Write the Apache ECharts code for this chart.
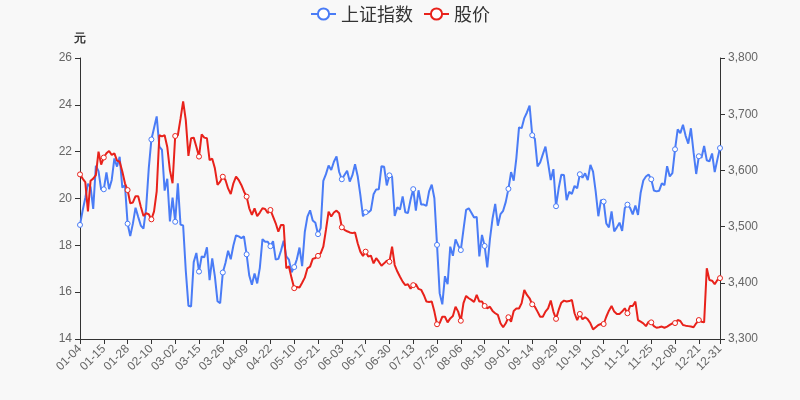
<!DOCTYPE html>
<html>
<head>
<meta charset="utf-8">
<script src="https://cdn.jsdelivr.net/npm/echarts@6/dist/echarts.min.js"></script>
<style>
html,body{margin:0;padding:0;background:#f8f8f8;}
#c{width:800px;height:400px;}
</style>
</head>
<body>
<div id="c"></div>
<script>
const categories = [
'01-04','01-05','01-06','01-07','01-08','01-11','01-12','01-13','01-14','01-15','01-18','01-19','01-20','01-21','01-22','01-25','01-26','01-27','01-28','01-29',
'02-01','02-02','02-03','02-04','02-05','02-08','02-09','02-10','02-18','02-19','02-22','02-23','02-24','02-25','02-26',
'03-01','03-02','03-03','03-04','03-05','03-08','03-09','03-10','03-11','03-12','03-15','03-16','03-17','03-18','03-19','03-22','03-23','03-24','03-25','03-26','03-29','03-30','03-31',
'04-01','04-02','04-06','04-07','04-08','04-09','04-12','04-13','04-14','04-15','04-16','04-19','04-20','04-21','04-22','04-23','04-26','04-27','04-28','04-29','04-30',
'05-06','05-07','05-10','05-11','05-12','05-13','05-14','05-17','05-18','05-19','05-20','05-21','05-24','05-25','05-26','05-27','05-28','05-31',
'06-01','06-02','06-03','06-04','06-07','06-08','06-09','06-10','06-11','06-15','06-16','06-17','06-18','06-21','06-22','06-23','06-24','06-25','06-28','06-29','06-30',
'07-01','07-02','07-05','07-06','07-07','07-08','07-09','07-12','07-13','07-14','07-15','07-16','07-19','07-20','07-21','07-22','07-23','07-26','07-27','07-28','07-29','07-30',
'08-02','08-03','08-04','08-05','08-06','08-09','08-10','08-11','08-12','08-13','08-16','08-17','08-18','08-19','08-20','08-23','08-24','08-25','08-26','08-27','08-30','08-31',
'09-01','09-02','09-03','09-06','09-07','09-08','09-09','09-10','09-13','09-14','09-15','09-16','09-17','09-22','09-23','09-24','09-27','09-28','09-29','09-30',
'10-08','10-11','10-12','10-13','10-14','10-15','10-18','10-19','10-20','10-21','10-22','10-25','10-26','10-27','10-28','10-29',
'11-01','11-02','11-03','11-04','11-05','11-08','11-09','11-10','11-11','11-12','11-15','11-16','11-17','11-18','11-19','11-22','11-23','11-24','11-25','11-26','11-29','11-30',
'12-01','12-02','12-03','12-06','12-07','12-08','12-09','12-10','12-13','12-14','12-15','12-16','12-17','12-20','12-21','12-22','12-23','12-24','12-27','12-28','12-29','12-30','12-31'
];

const indexValues = [
3502.96,3528.68,3550.88,3576.20,3570.11,3531.50,3608.34,3598.65,3565.90,3566.38,3596.22,3566.66,3583.09,3621.26,3606.75,3624.24,3569.43,3573.34,3505.18,3483.07,
3505.28,3533.68,3517.31,3501.86,3496.33,3532.44,3603.49,3655.09,3675.36,3696.17,3642.44,3636.36,3564.08,3585.05,3509.08,
3551.40,3508.59,3576.90,3503.49,3501.99,3421.41,3359.29,3357.74,3436.83,3453.08,3419.95,3446.73,3445.55,3463.07,3404.66,3443.44,3411.51,3367.06,3363.59,3418.33,3435.30,3457.07,3441.91,
3466.33,3484.39,3482.49,3479.63,3482.55,3450.68,3412.95,3396.47,3416.46,3398.99,3426.62,3477.55,3472.94,3472.93,3465.11,3474.17,3441.17,3442.61,3457.07,3474.90,3446.86,
3441.28,3418.87,3427.99,3441.85,3462.75,3429.54,3490.38,3517.62,3529.01,3510.96,3506.94,3486.56,3497.28,3581.34,3593.36,3608.85,3600.78,3615.48,
3624.71,3597.14,3584.22,3591.84,3599.54,3580.11,3591.40,3610.86,3589.75,3556.56,3518.33,3525.60,3525.10,3529.18,3557.41,3566.22,3566.65,3607.56,3606.37,3573.18,3591.20,
3588.78,3518.76,3534.32,3530.26,3553.72,3525.50,3524.09,3547.84,3566.65,3528.50,3564.59,3539.30,3539.12,3536.79,3562.70,3574.73,3550.40,3467.44,3381.18,3361.59,3411.72,3397.36,
3464.29,3447.99,3477.22,3466.56,3458.23,3494.63,3529.93,3532.62,3524.74,3516.30,3517.34,3446.98,3485.29,3465.55,3427.33,3477.13,3514.47,3540.38,3501.66,3522.16,3528.15,3543.94,
3567.10,3597.04,3581.73,3621.86,3676.59,3675.19,3693.13,3703.11,3715.37,3662.60,3656.22,3607.09,3613.97,3628.49,3642.22,3613.07,3582.83,3602.22,3536.29,3568.17,
3592.17,3591.71,3546.94,3561.76,3558.28,3572.37,3568.14,3593.15,3587.00,3594.78,3582.60,3609.86,3597.64,3562.31,3518.42,3547.34,
3544.48,3505.63,3498.54,3526.87,3491.57,3498.63,3507.00,3492.46,3532.79,3539.10,3533.30,3521.79,3537.37,3520.71,3560.37,3582.08,3589.09,3592.70,3584.18,3564.09,3562.70,3563.89,
3576.89,3573.84,3607.43,3589.31,3595.09,3637.57,3673.04,3666.35,3681.08,3661.53,3647.63,3675.02,3632.36,3593.60,3625.13,3622.62,3643.34,3618.05,3615.97,3630.11,3597.00,3619.19,3639.78
];

const priceValues = [
21.03,20.85,20.7,19.45,20.76,20.85,21.0,22.0,21.45,21.75,
21.93,22.03,21.86,21.93,21.62,21.57,21.15,20.65,20.36,19.8,
19.83,20.1,20.1,19.65,19.25,19.37,19.33,19.11,19.45,20.3,
22.7,22.65,22.7,22.2,21.2,20.65,22.67,22.7,23.4,24.15,
23.35,21.82,22.57,22.6,22.21,21.79,22.74,22.6,22.57,21.64,
21.7,21.29,20.58,20.72,20.93,20.79,20.43,20.19,20.65,20.93,
20.79,20.58,20.3,20.08,19.58,19.3,19.58,19.25,19.4,19.58,
19.55,19.38,19.51,19.23,18.94,18.58,18.87,18.87,17.02,17.1,
16.6,16.17,16.22,16.2,16.4,16.62,17.02,17.09,17.42,17.46,
17.55,17.66,17.94,18.66,19.44,19.23,19.4,19.48,19.37,18.77,
18.66,18.6,18.55,18.52,18.55,18.09,17.73,17.55,17.73,17.52,
17.56,17.23,17.45,17.3,17.13,17.23,17.34,17.3,17.94,17.16,
16.88,16.66,16.45,16.3,16.34,16.15,16.3,16.34,16.14,16.1,
15.88,15.6,15.58,15.6,15.17,14.63,14.68,14.95,14.95,14.71,
14.88,14.98,15.38,15.17,14.78,15.53,15.84,15.74,15.67,15.58,
15.88,15.6,15.6,15.41,15.31,15.38,15.2,15.1,15.03,14.67,
14.5,14.67,14.93,14.74,15.2,15.3,15.3,15.53,16.09,15.88,
15.74,15.48,15.38,15.17,14.95,14.95,15.17,15.31,15.64,15.17,
14.86,15.24,15.55,15.64,15.6,15.62,15.67,15.1,14.81,15.07,
14.84,14.93,14.84,14.67,14.41,14.5,14.6,14.64,14.64,14.95,
15.21,15.41,15.17,15.07,15.07,15.17,15.31,15.1,15.41,15.41,
15.6,14.81,14.74,14.67,14.55,14.74,14.71,14.55,14.48,14.5,
14.53,14.48,14.53,14.6,14.67,14.68,14.81,14.77,14.6,14.57,
14.55,14.53,14.5,14.67,14.81,14.74,14.71,17.02,16.52,16.49,
16.34,16.52,16.6
];

const seriesNames = ['上证指数', '股价'];
const priceTicks = {min: 14, max: 26, interval: 2};
const indexTicks = {min: 3300, max: 3800, interval: 100};

const chart = echarts.init(document.getElementById('c'), null, {renderer: 'canvas'});
const axisLineStyle = {show: true, lineStyle: {color: '#333', width: 1}};
chart.setOption({
  backgroundColor: '#f8f8f8',
  animation: false,
  legend: {
    data: seriesNames,
    top: 0,
    left: 'center',
    itemWidth: 25,
    itemHeight: 14,
    itemGap: 10,
    textStyle: {fontSize: 18, color: '#333', fontFamily: 'Noto Sans CJK SC, sans-serif'}
  },
  grid: {left: 80, right: 80, top: 58, bottom: 61, containLabel: false},
  xAxis: {
    type: 'category',
    data: categories,
    boundaryGap: false,
    axisLine: axisLineStyle,
    axisTick: {show: true, interval: 8},
    axisLabel: {rotate: 45, interval: 8, showMaxLabel: true, color: '#666', fontSize: 12, margin: 8}
  },
  yAxis: [
    {
      type: 'value',
      position: 'left',
      name: '元',
      nameGap: 13,
      nameTextStyle: {fontWeight: 'bold', color: '#333', fontSize: 12},
      min: priceTicks.min, max: priceTicks.max, interval: priceTicks.interval,
      axisLine: axisLineStyle,
      axisTick: {show: true},
      splitLine: {show: false},
      axisLabel: {color: '#666', fontSize: 12}
    },
    {
      type: 'value',
      position: 'right',
      min: indexTicks.min, max: indexTicks.max, interval: indexTicks.interval,
      axisLine: axisLineStyle,
      axisTick: {show: true},
      splitLine: {show: false},
      axisLabel: {color: '#666', fontSize: 12, formatter: v => v.toLocaleString('en-US')}
    }
  ],
  series: [
    {
      name: seriesNames[0],
      type: 'line',
      yAxisIndex: 1,
      data: indexValues,
      symbol: 'circle',
      symbolSize: 5,
      itemStyle: {color: '#ffffff', borderColor: '#4a7cf6', borderWidth: 1},
      lineStyle: {color: '#4a7cf6', width: 2}
    },
    {
      name: seriesNames[1],
      type: 'line',
      yAxisIndex: 0,
      data: priceValues,
      symbol: 'circle',
      symbolSize: 5,
      itemStyle: {color: '#ffffff', borderColor: '#e8221b', borderWidth: 1},
      lineStyle: {color: '#e8221b', width: 2}
    }
  ]
});
</script>
</body>
</html>
